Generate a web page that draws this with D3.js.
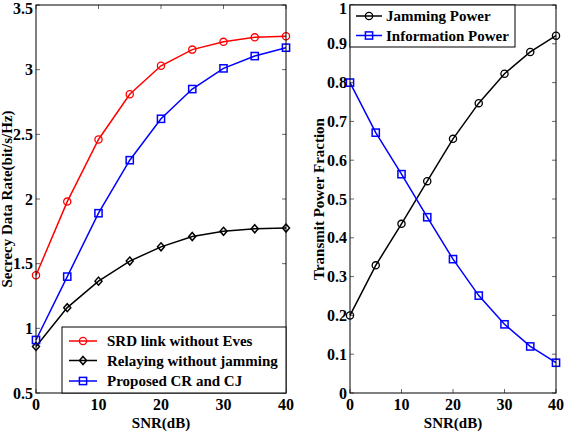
<!DOCTYPE html>
<html><head><meta charset="utf-8">
<script src="https://cdn.jsdelivr.net/npm/d3@7/dist/d3.min.js"></script>
<style>body{margin:0;background:#fff}svg{display:block}text{font-family:"Liberation Serif","Times New Roman",serif;font-weight:bold;}</style>
</head><body><svg id="c" width="567" height="431"></svg>
<script>
const snr = [0,5,10,15,20,25,30,35,40];
const srdNoEves = [1.41,1.98,2.46,2.81,3.03,3.155,3.215,3.25,3.258];
const relayNoJam = [0.86,1.16,1.365,1.52,1.63,1.71,1.75,1.77,1.775];
const proposed = [0.91,1.40,1.89,2.30,2.62,2.85,3.01,3.105,3.17];
const jamming = [0.20,0.329,0.436,0.546,0.655,0.747,0.823,0.879,0.921];
const information = [0.80,0.671,0.564,0.453,0.345,0.251,0.177,0.12,0.078];
const xTicks = [0,10,20,30,40];
const leftYTicks = [0.5,1,1.5,2,2.5,3,3.5];
const rightYTicks = [0,0.1,0.2,0.3,0.4,0.5,0.6,0.7,0.8,0.9,1];

const svg = d3.select("#c");
const FS = 15, TFS = 16;

function sym(g, type, x, y, color){
  if(type==="circle") g.append("circle").attr("cx",x).attr("cy",y).attr("r",3.6).attr("fill","none").attr("stroke",color).attr("stroke-width",1.3);
  else if(type==="square") g.append("rect").attr("x",x-3.6).attr("y",y-3.6).attr("width",7.2).attr("height",7.2).attr("fill","none").attr("stroke",color).attr("stroke-width",1.5);
  else if(type==="diamond") g.append("path").attr("d",`M${x},${y-4}L${x+3.5},${y}L${x},${y+4}L${x-3.5},${y}Z`).attr("fill","none").attr("stroke",color).attr("stroke-width",1.5);
}

function panel(opts){
  const {x0,x1,y0,y1,yDomain,yTicks,yFmt,series,ylabel,ylabelX} = opts;
  const x = d3.scaleLinear().domain([0,40]).range([x0,x1]);
  const y = d3.scaleLinear().domain(yDomain).range([y1,y0]);
  const g = svg.append("g");
  const tk = g.append("g").attr("stroke","#666").attr("stroke-width",1);
  xTicks.forEach(t=>{
    tk.append("line").attr("x1",x(t)).attr("x2",x(t)).attr("y1",y1).attr("y2",y1-4);
    tk.append("line").attr("x1",x(t)).attr("x2",x(t)).attr("y1",y0).attr("y2",y0+4);
  });
  yTicks.forEach(t=>{
    tk.append("line").attr("x1",x0).attr("x2",x0+4).attr("y1",y(t)).attr("y2",y(t));
    tk.append("line").attr("x1",x1).attr("x2",x1-4).attr("y1",y(t)).attr("y2",y(t));
  });
  series.forEach(s=>{
    const line = d3.line().x((d,i)=>x(snr[i])).y(d=>y(d));
    g.append("path").datum(s.values).attr("d",line).attr("fill","none").attr("stroke",s.color).attr("stroke-width",1.5);
    s.values.forEach((v,i)=>sym(g,s.marker,x(snr[i]),y(v),s.color));
  });
  g.append("rect").attr("x",x0).attr("y",y0).attr("width",x1-x0).attr("height",y1-y0).attr("fill","none").attr("stroke","#000").attr("stroke-width",1);
  xTicks.forEach(t=>{
    g.append("text").attr("x",x(t)).attr("y",y1+17).attr("text-anchor","middle").attr("font-size",TFS).text(t);
  });
  yTicks.forEach(t=>{
    g.append("text").attr("x",x0-3).attr("y",Math.max(y(t)+5.5,14)).attr("text-anchor","end").attr("font-size",TFS).text(yFmt(t));
  });
  g.append("text").attr("x",(x0+x1)/2).attr("y",428).attr("text-anchor","middle").attr("font-size",FS).text("SNR(dB)");
  g.append("text").attr("transform",`translate(${ylabelX},${(y0+y1)/2}) rotate(-90)`).attr("text-anchor","middle").attr("font-size",FS).text(ylabel);
  return {x,y,g};
}

panel({x0:36,x1:286,y0:5,y1:393,yDomain:[0.5,3.5],yTicks:leftYTicks,
  yFmt:d=>String(d),
  ylabel:"Secrecy Data Rate(bit/s/Hz)",ylabelX:12,
  series:[
    {values:srdNoEves,color:"#ff0000",marker:"circle"},
    {values:relayNoJam,color:"#000000",marker:"diamond"},
    {values:proposed,color:"#0000ff",marker:"square"}
  ]});
panel({x0:350,x1:556,y0:5,y1:393,yDomain:[0,1],yTicks:rightYTicks,
  yFmt:d=>d===0?"0":(d===1?"1":d3.format(".1f")(d)),
  ylabel:"Transmit Power Fraction",ylabelX:324,
  series:[
    {values:jamming,color:"#000000",marker:"circle"},
    {values:information,color:"#0000ff",marker:"square"}
  ]});

function legend(box, items, lx0, lx1, tx, ys){
  const g = svg.append("g");
  g.append("rect").attr("x",box[0]).attr("y",box[1]).attr("width",box[2]).attr("height",box[3]).attr("fill","#fff").attr("stroke","#000").attr("stroke-width",1);
  items.forEach((it,i)=>{
    g.append("line").attr("x1",lx0).attr("x2",lx1).attr("y1",ys[i]).attr("y2",ys[i]).attr("stroke",it.color).attr("stroke-width",1.5);
    sym(g,it.marker,(lx0+lx1)/2,ys[i],it.color);
    g.append("text").attr("x",tx).attr("y",ys[i]+5).attr("font-size",FS).text(it.name);
  });
}
legend([62,327,224,66],[
  {color:"#ff0000",marker:"circle",name:"SRD link without Eves"},
  {color:"#000000",marker:"diamond",name:"Relaying without jamming"},
  {color:"#0000ff",marker:"square",name:"Proposed CR and CJ"}],69,97,107,[341,360.5,381]);
legend([350,5,165,42],[
  {color:"#000000",marker:"circle",name:"Jamming Power"},
  {color:"#0000ff",marker:"square",name:"Information Power"}],356,382,386,[16,35.5]);
</script></body></html>
